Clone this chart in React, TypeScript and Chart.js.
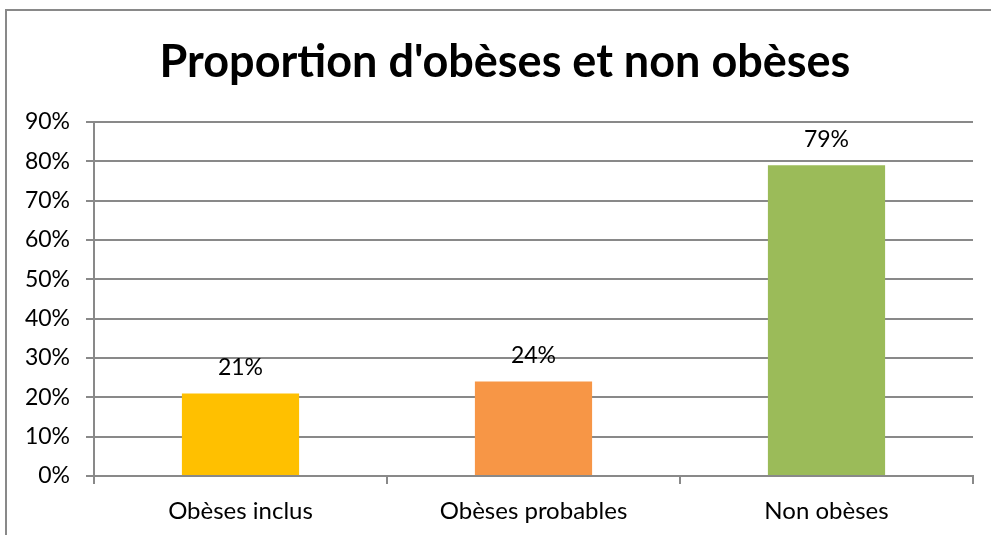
import React, { useEffect, useRef } from "react";
import { Chart, registerables } from "chart.js";

Chart.register(...registerables);

const categories = ["Obèses inclus", "Obèses probables", "Non obèses"];
const values = [21, 24, 79];
const barColors = ["#FFC000", "#F79646", "#9BBB59"];
const titleText = "Proportion d'obèses et non obèses";
const yMax = 90;
const yStep = 10;

const FONT = "Lato, 'Open Sans', sans-serif";

const borderPlugin = {
  id: "outerBorder",
  beforeDraw(chart: any) {
    const ctx = chart.ctx;
    ctx.save();
    ctx.fillStyle = "#ffffff";
    ctx.fillRect(0, 0, chart.width, chart.height);
    ctx.strokeStyle = "#898989";
    ctx.lineWidth = 2;
    ctx.strokeRect(6, 10, chart.width + 20, chart.height + 20);
    ctx.fillStyle = "#000000";
    ctx.font = `bold 45px ${FONT}`;
    ctx.textAlign = "center";
    ctx.textBaseline = "middle";
    ctx.fillText(titleText, 505, 62);
    ctx.restore();
  },
};

const labelPlugin = {
  id: "valueLabels",
  afterDatasetsDraw(chart: any) {
    const ctx = chart.ctx;
    const meta = chart.getDatasetMeta(0);
    ctx.save();
    ctx.fillStyle = "#000000";
    ctx.font = `23px ${FONT}`;
    ctx.textAlign = "center";
    ctx.textBaseline = "middle";
    meta.data.forEach((bar: any, i: number) => {
      ctx.fillText(`${values[i]}%`, bar.x, bar.y - 26);
    });
    ctx.restore();
  },
};

export default function App() {
  const ref = useRef<HTMLCanvasElement>(null);
  useEffect(() => {
    document.body.style.margin = "0";
    const chart = new Chart(ref.current!, {
      type: "bar",
      data: {
        labels: categories,
        datasets: [
          {
            data: values,
            backgroundColor: barColors,
            barPercentage: 0.4,
            categoryPercentage: 1,
          },
        ],
      },
      plugins: [borderPlugin, labelPlugin],
      options: {
        animation: false,
        responsive: false,
        layout: { padding: { left: 0, right: 18, top: 122, bottom: 0 } },
        plugins: {
          legend: { display: false },
          tooltip: { enabled: false },
          title: { display: false },
        },
        scales: {
          x: {
            afterFit(scale: any) {
              scale.height = 59;
            },
            grid: {
              offset: true,
              drawOnChartArea: false,
              drawTicks: true,
              tickLength: 8,
              color: "#898989",
              lineWidth: 2,
            },
            border: { display: true, color: "#898989", width: 2 },
            ticks: {
              color: "#000000",
              font: { family: FONT, size: 24 },
              padding: 13,
            },
          },
          y: {
            min: 0,
            max: yMax,
            afterFit(scale: any) {
              scale.width = 94;
            },
            grid: {
              color: "#898989",
              lineWidth: 2,
              tickLength: 8,
            },
            border: { display: true, color: "#898989", width: 2 },
            ticks: {
              stepSize: yStep,
              color: "#000000",
              font: { family: FONT, size: 23 },
              padding: 16,
              callback: (v: any) => `${v}%`,
            },
          },
        },
      },
    });
    return () => chart.destroy();
  }, []);
  return (
    <div style={{ width: 991, height: 535 }}>
      <canvas ref={ref} width={991} height={535} style={{ display: "block" }} />
    </div>
  );
}
